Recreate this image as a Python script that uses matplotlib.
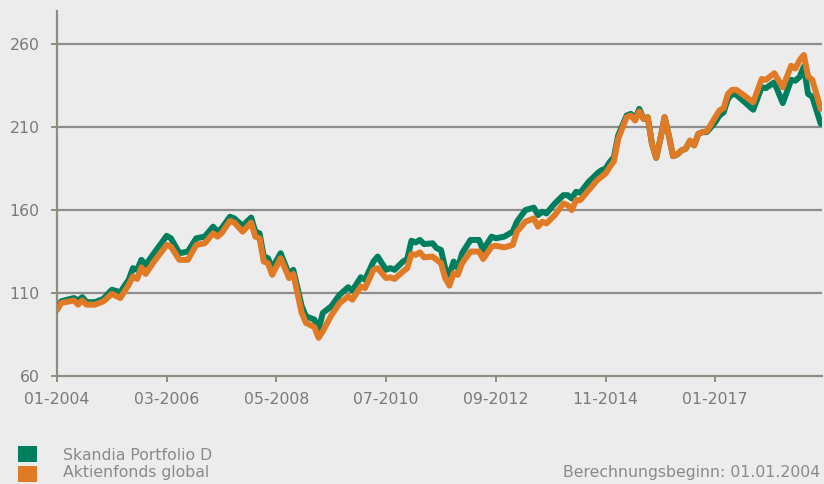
import matplotlib
matplotlib.use("Agg")
import matplotlib.pyplot as plt
from matplotlib.patches import Rectangle

# months since 01-2004
months = [0, 1, 4, 5, 6, 7, 9, 11, 13, 15, 17, 18, 19, 20, 21, 23, 26, 27, 29, 31,
          33, 35, 37, 38, 39, 41, 42, 44, 46, 47, 48, 49, 50, 51, 53, 55, 56, 58, 59, 61,
          62, 63, 65, 67, 69, 70, 72, 73, 75, 76, 78, 79, 80, 82, 83, 84, 85, 86, 87, 89,
          90, 91, 92, 93, 94, 95, 96, 98, 100, 101, 103, 104, 106, 108, 109, 111, 113, 114, 115, 116,
          118, 120, 121, 122, 123, 124, 126, 128, 129, 130, 131, 132, 133, 135, 136, 137, 138, 139, 140, 141,
          142, 143, 144, 145, 146, 147, 148, 149, 150, 151, 152, 153, 154, 156, 157, 158, 159, 160, 161, 165,
          167, 168, 170, 172, 174, 175, 176, 177, 178, 179, 181]

skandia = [100, 105, 107, 105.5, 107.5, 104.5, 104.5, 106.5, 112, 110.5, 118, 125, 124, 130, 127, 134, 144.5, 143, 134, 135,
           143, 144, 150, 147, 149, 156, 155, 150.5, 155.5, 147, 146, 132, 131, 125, 134, 121, 124, 102, 96, 94,
           88, 98, 102, 109, 113.5, 111.5, 119.5, 118, 129, 132, 124, 125, 124, 129, 130.5, 141.5, 140.5, 142, 139.5, 140,
           137, 136, 125, 121, 129, 125, 134, 142, 142, 136, 144, 143, 144, 147, 153, 160, 161.5, 157, 159, 158,
           164, 169, 169, 167, 171, 170.5, 177, 182, 184, 185, 189, 192, 205, 217, 218, 215, 221, 215, 216, 200,
           191.5, 203, 216, 205, 192.5, 193.5, 196, 197, 201.5, 199, 206, 207, 207, 213, 217, 219, 227, 230, 229.5, 220.5,
           234, 233.5, 237, 224.5, 238.5, 238, 240.3, 246.5, 230, 228.3, 212]

aktienfonds = [100, 104, 105.5, 103, 105.5, 103, 103, 105, 109.5, 107, 115, 120, 118.5, 125.5, 121.5, 129, 139, 138, 130, 130,
               139, 140, 146, 144, 146, 153.5, 152.5, 147, 152.5, 144, 143, 129, 128, 121, 131, 119, 121.5, 98, 92, 89.5,
               83, 87, 96.5, 104, 108, 106, 114, 113, 124, 125, 119, 119.5, 118.5, 123, 125, 133.5, 133, 134.5, 131.5, 132,
               130, 128, 119, 114.5, 122, 121, 128, 135, 135, 130.5, 138, 138.5, 137.5, 139, 147, 153, 155, 150, 153, 152,
               157, 164, 163, 160, 166, 166, 172, 178, 180, 182, 186, 189.5, 203, 216, 217, 214, 219.5, 215, 216, 200,
               191.5, 203, 216, 205, 192.5, 193.7, 196, 197, 202, 199, 206, 207, 207.5, 216, 220, 221.5, 230, 232.5, 232.5, 225,
               239, 238.5, 242.5, 234, 247, 245.3, 250.4, 253.5, 240.5, 238.5, 221]

series_names = ["Skandia Portfolio D", "Aktienfonds global"]
tick_months = [0, 26, 52, 78, 104, 130, 156]
tick_labels = ["01-2004", "03-2006", "05-2008", "07-2010", "09-2012", "11-2014", "01-2017"]
y_ticks = [60, 110, 160, 210, 260]
footnote = "Berechnungsbeginn: 01.01.2004"

GREEN = "#007f5f"
ORANGE = "#e07a24"
BG = "#ececec"
GRID = "#8e8e8e"
SPINE = "#8f8c82"
TXT = "#7a7a7a"

plt.rcParams['font.family'] = ['DejaVu Sans']
W, H = 824, 484
fig = plt.figure(figsize=(W / 100, H / 100), dpi=100, facecolor=BG)
ax = fig.add_axes([57 / W, 1 - 376 / H, (822 - 57) / W, (376 - 11) / H])
ax.set_facecolor(BG)

ax.set_xlim(0, 181.3)
ax.set_ylim(60, 280)

for v in y_ticks[1:]:
    ax.axhline(v, color=GRID, lw=1.6, zorder=1)

ax.plot(months, skandia, color=GREEN, lw=4.3, solid_joinstyle='round', solid_capstyle='round', zorder=3)
ax.plot(months, aktienfonds, color=ORANGE, lw=4.3, solid_joinstyle='round', solid_capstyle='round', zorder=4)

for s in ['top', 'right']:
    ax.spines[s].set_visible(False)
for s in ['left', 'bottom']:
    ax.spines[s].set_color(SPINE)
    ax.spines[s].set_linewidth(1.6)

ax.set_yticks(y_ticks)
ax.set_yticklabels([str(v) for v in y_ticks])
ax.set_xticks(tick_months)
ax.set_xticklabels(tick_labels)
ax.tick_params(axis='both', colors=SPINE, labelcolor=TXT, labelsize=11.3, width=1.4, length=4.5)
ax.tick_params(axis='y', pad=8)
ax.tick_params(axis='x', pad=7)

# legend
fig.patches.append(Rectangle((18 / W, 1 - 462 / H), 19 / W, 16 / H, transform=fig.transFigure,
                             facecolor=GREEN, edgecolor='none'))
fig.patches.append(Rectangle((18 / W, 1 - 482 / H), 19 / W, 16 / H, transform=fig.transFigure,
                             facecolor=ORANGE, edgecolor='none'))
fig.text(63 / W, 1 - 455 / H, series_names[0], color="#8a8a8a", fontsize=11.3, va='center', ha='left')
fig.text(63 / W, 1 - 473 / H, series_names[1], color="#8a8a8a", fontsize=11.3, va='center', ha='left')
fig.text(563 / W, 1 - 473 / H, footnote, color="#8a8a8a", fontsize=11.3, va='center', ha='left')

fig.savefig("out.png", dpi=100, facecolor=BG)
